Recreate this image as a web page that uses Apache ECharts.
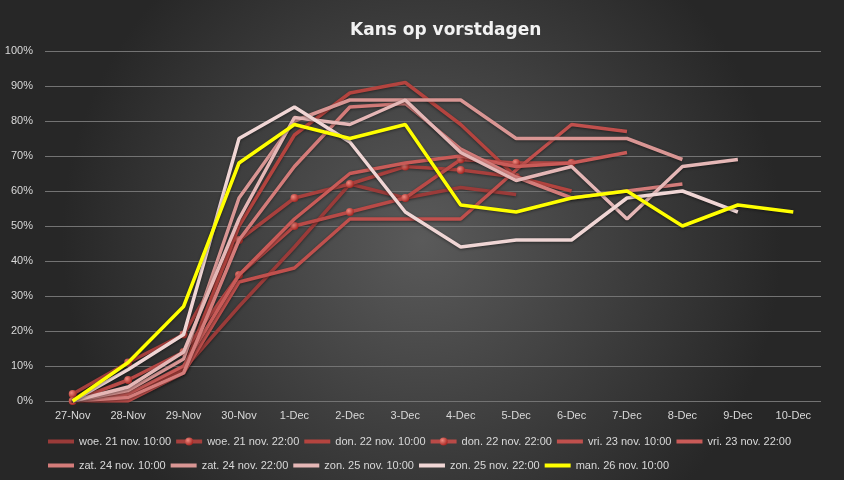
<!DOCTYPE html>
<html>
<head>
<meta charset="utf-8">
<script src="https://cdn.jsdelivr.net/npm/echarts@6/dist/echarts.min.js"></script>
<style>html,body{margin:0;padding:0;background:#333;}#c{width:844px;height:480px;}</style>
</head>
<body>
<div id="c"></div>
<script>
var categories = ['27-Nov','28-Nov','29-Nov','30-Nov','1-Dec','2-Dec','3-Dec','4-Dec','5-Dec','6-Dec','7-Dec','8-Dec','9-Dec','10-Dec'];
var yTicks = [0,10,20,30,40,50,60,70,80,90,100];

var woe21a = [0, 2, 9, 27, 44, 62, 58, 61, 59];
var woe21b = [2, 11, 19, 46, 58, 62, 67, 66, 64];
var don22a = [0, 2, 9, 50, 76, 88, 91, 79, 64, 60];
var don22b = [0, 6, 14, 36, 50, 54, 58, 69, 68, 68];
var vri23a = [0, 0, 8, 34, 38, 52, 52, 52, 66, 79, 77];
var vri23b = [0, 2, 10, 36, 52, 65, 68, 70, 67, 68, 71];
var zat24a = [0, 1, 8, 46, 67, 84, 85, 72, 64, 58, 60, 62];
var zat24b = [0, 3, 12, 58, 80, 86, 86, 86, 75, 75, 75, 69];
var zon25a = [0, 4, 14, 52, 81, 79, 86, 71, 63, 67, 52, 67, 69];
var zon25b = [0, 9, 19, 75, 84, 74, 54, 44, 46, 46, 58, 60, 54];
var man26  = [0, 11, 27, 68, 79, 75, 79, 56, 54, 58, 60, 50, 56, 54];

var names = ['woe. 21 nov. 10:00','woe. 21 nov. 22:00','don. 22 nov. 10:00','don. 22 nov. 22:00','vri. 23 nov. 10:00','vri. 23 nov. 22:00','zat. 24 nov. 10:00','zat. 24 nov. 22:00','zon. 25 nov. 10:00','zon. 25 nov. 22:00','man. 26 nov. 10:00'];
var values = [woe21a, woe21b, don22a, don22b, vri23a, vri23b, zat24a, zat24b, zon25a, zon25b, man26];
var colors = ['#9a3b39','#a8403d','#b4443f','#b94a47','#c0504d','#c95b58','#d47c7a','#d99694','#e5b7b6','#f0d6d5','#ffff00'];
var markers = [false,true,false,true,false,false,false,false,false,false,false];

var sphere = {type:'radial',x:0.35,y:0.35,r:0.7,colorStops:[{offset:0,color:'#f08a80'},{offset:1,color:'#a3231f'}]};

var series = values.map(function(v,i){
  return {
    name: names[i], type:'line', data: v,
    showSymbol: markers[i], symbol: markers[i] ? 'circle' : 'none',
    symbolSize: 8,
    lineStyle: {width: 3.5, color: colors[i], shadowColor:'rgba(0,0,0,0.45)', shadowBlur:3, shadowOffsetY:1},
    itemStyle: {color: markers[i] ? sphere : colors[i], borderWidth:0},
    emphasis: {disabled:true},
    animation:false,
    z: 2 + i
  };
});

function legendData(list, offset){
  return list.map(function(n, k){
    var i = offset + k;
    if (markers[i]) return {name:n, itemStyle:{color:sphere}};
    return {name:n, itemStyle:{opacity:0}};
  });
}

var chart = echarts.init(document.getElementById('c'));
var legendText = {color:'#d9d9d9', fontSize:11, fontFamily:'Liberation Sans, Arial, sans-serif'};
var legendLine = {width:4, shadowBlur:0, shadowOffsetY:0};
chart.setOption({
  backgroundColor: {type:'radial', x:0.5, y:0.5, r:0.75, colorStops:[{offset:0,color:'#5a5a5a'},{offset:1,color:'#272727'}]},
  color: colors,
  title: {text:'Kans op vorstdagen', left:345, top:17,
    textStyle:{color:'#f2f2f2', fontSize:17, fontWeight:'bold', fontFamily:'DejaVu Sans, sans-serif'}},
  grid: {left:45, right:23, top:51, bottom:79, containLabel:false},
  legend: [
    {data: legendData(names.slice(0,6),0), left:41, top:431, itemWidth:26, itemHeight:10, itemGap:3, lineStyle:legendLine, textStyle:legendText, selectedMode:false},
    {data: legendData(names.slice(6),6), left:41, top:455, itemWidth:26, itemHeight:10, itemGap:3, lineStyle:legendLine, textStyle:legendText, selectedMode:false}
  ],
  xAxis: {type:'category', data:categories, boundaryGap:true,
    axisLine:{show:false}, axisTick:{show:false},
    axisLabel:{color:'#d9d9d9', fontSize:11, margin:9, fontFamily:'Liberation Sans, Arial, sans-serif'}},
  yAxis: {type:'value', min:yTicks[0], max:yTicks[yTicks.length-1], interval:10,
    axisLine:{show:false}, axisTick:{show:false},
    splitLine:{lineStyle:{color:'#737373', width:1}},
    axisLabel:{color:'#d9d9d9', fontSize:11, formatter:'{value}%', margin:12, fontFamily:'Liberation Sans, Arial, sans-serif'}},
  series: series
});
</script>
</body>
</html>
